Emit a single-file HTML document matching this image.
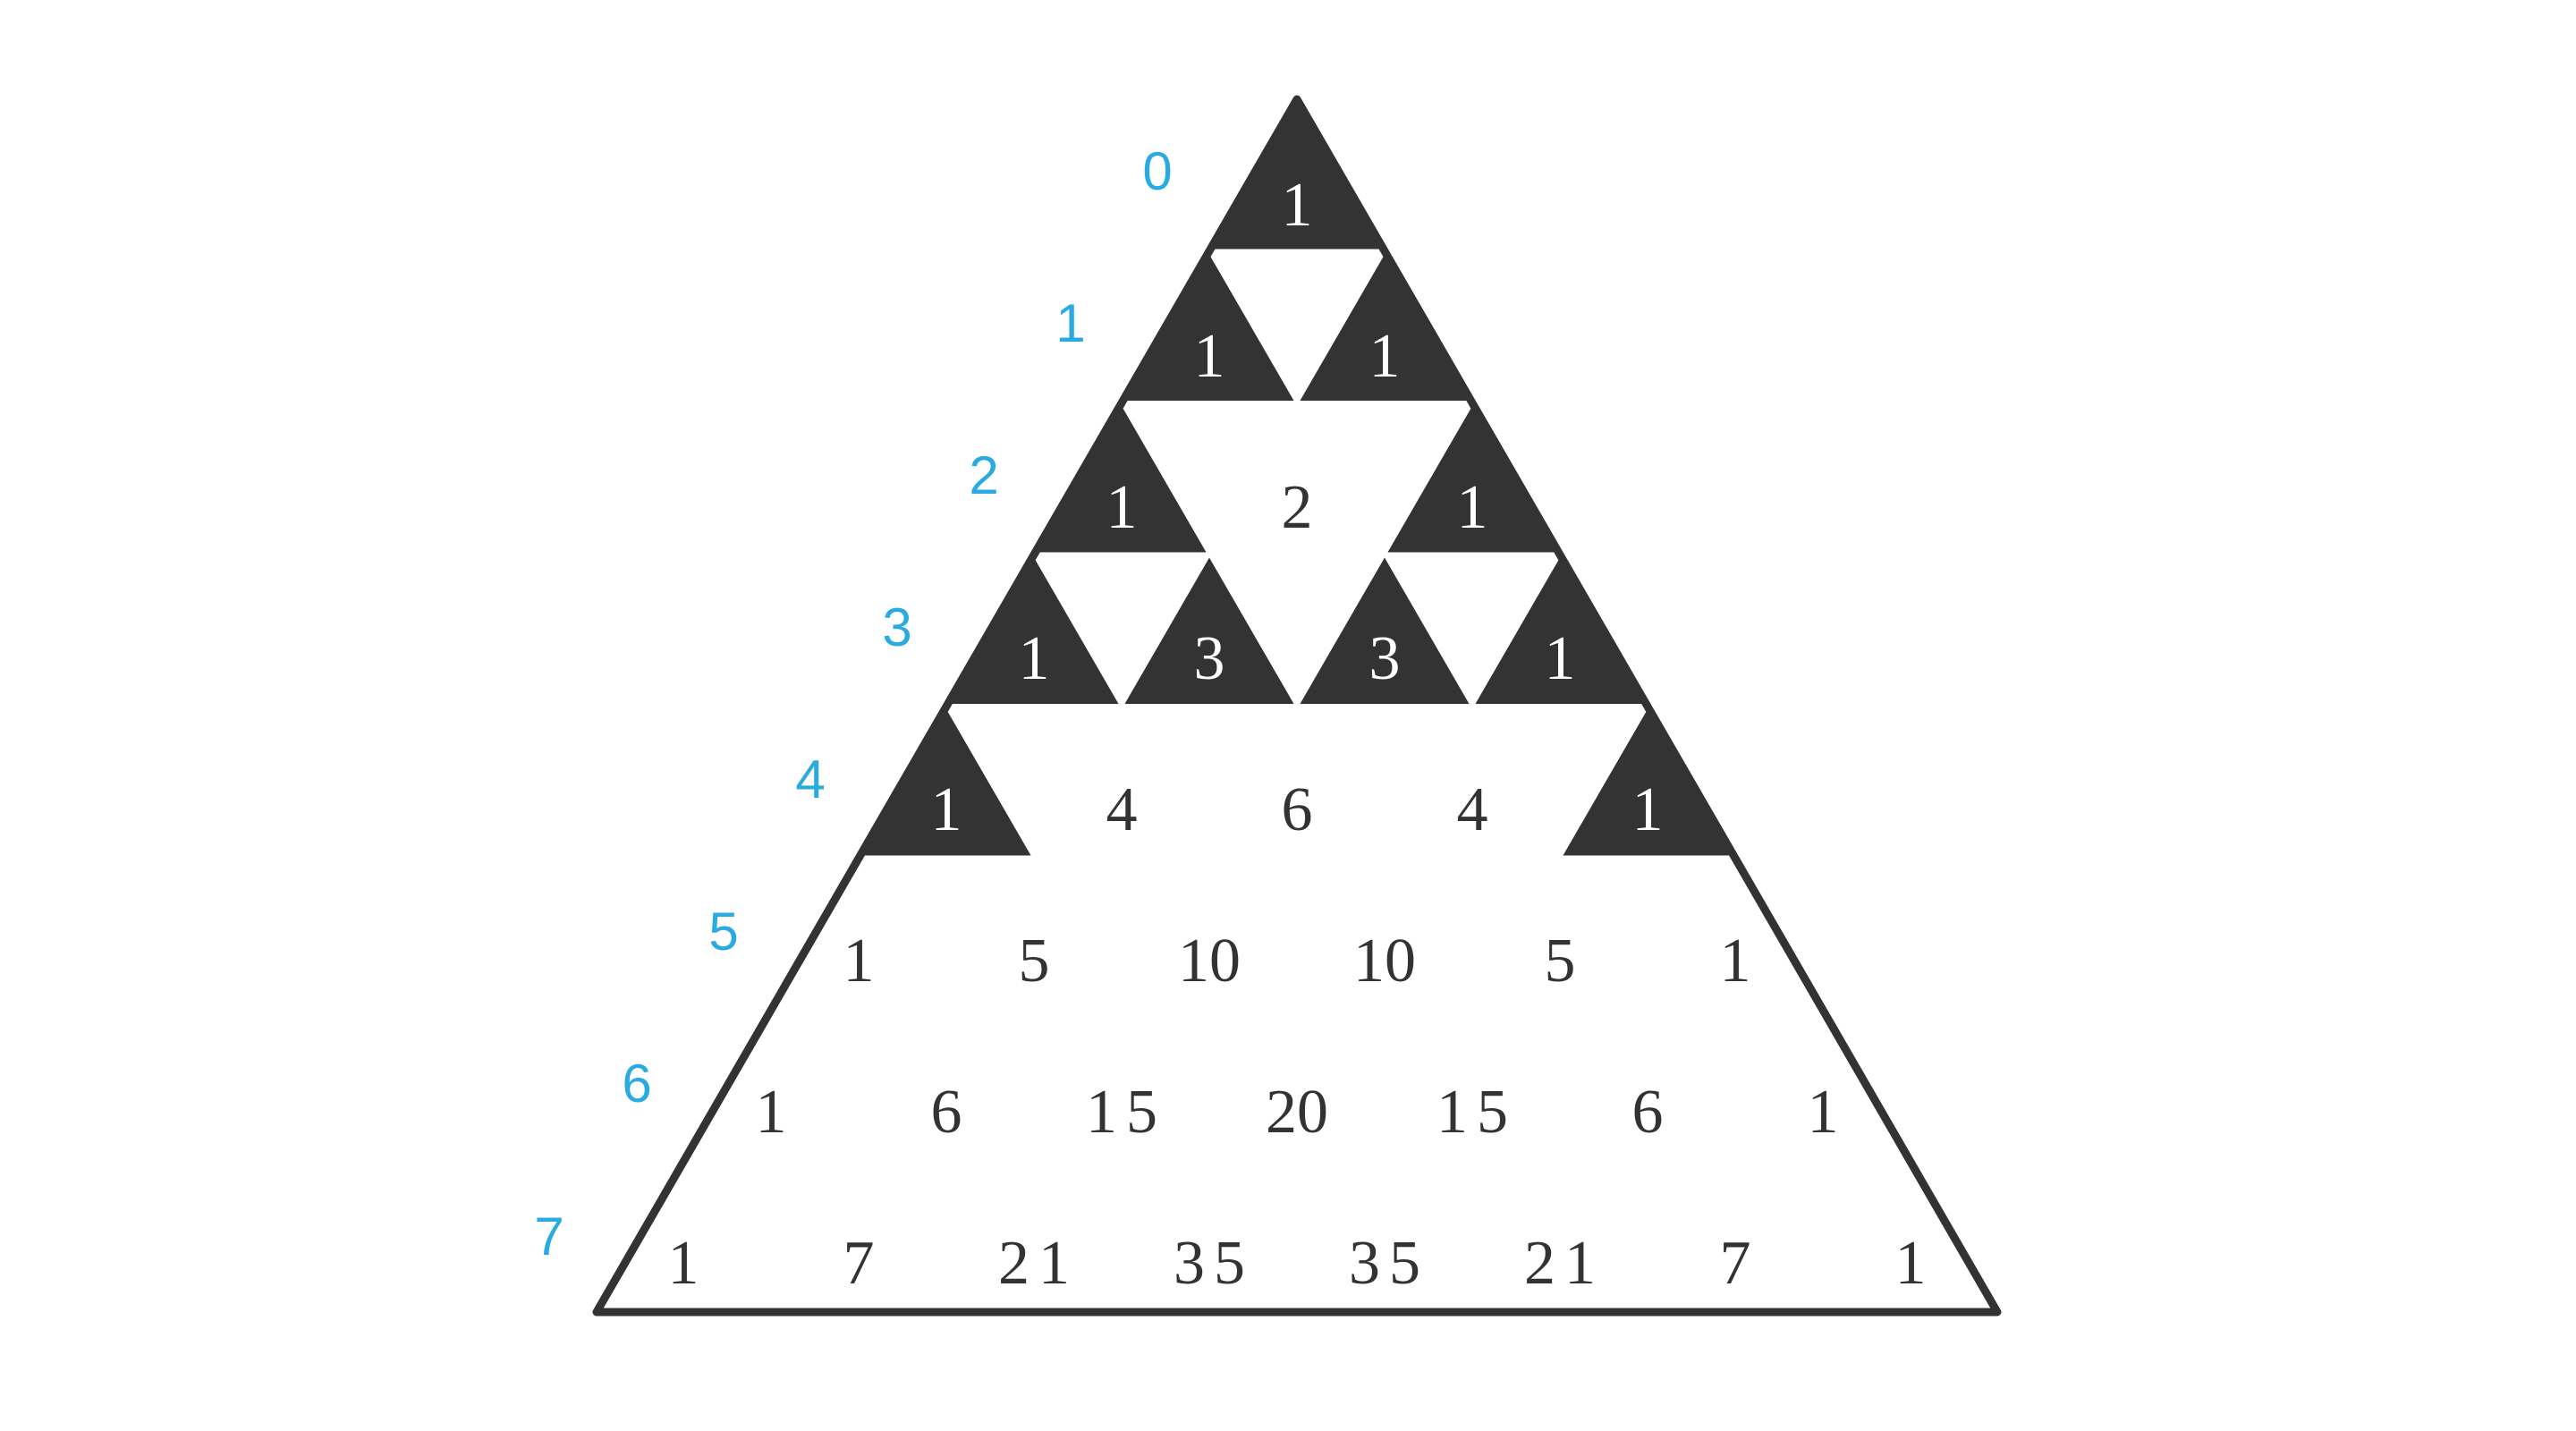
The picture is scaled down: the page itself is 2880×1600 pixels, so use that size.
<!DOCTYPE html>
<html><head><meta charset="utf-8"><style>html,body{margin:0;padding:0;background:#fff}svg{display:block}</style></head>
<body>
<svg width="2880" height="1600" viewBox="0 0 2880 1600" xmlns="http://www.w3.org/2000/svg">
<g fill="#333" stroke="#fff" stroke-width="4" stroke-linejoin="round">
<polygon points="1450,111 1352,280.5 1548,280.5"/>
<polygon points="1352,280.5 1254,450 1450,450"/>
<polygon points="1548,280.5 1450,450 1646,450"/>
<polygon points="1254,450 1156,619.5 1352,619.5"/>
<polygon points="1646,450 1548,619.5 1744,619.5"/>
<polygon points="1156,619.5 1058,789 1254,789"/>
<polygon points="1352,619.5 1254,789 1450,789"/>
<polygon points="1548,619.5 1450,789 1646,789"/>
<polygon points="1744,619.5 1646,789 1842,789"/>
<polygon points="1058,789 960,958.5 1156,958.5"/>
<polygon points="1842,789 1744,958.5 1940,958.5"/>
</g>
<polygon points="1450,111 667,1467 2233,1467" fill="none" stroke="#333" stroke-width="9" stroke-linejoin="round"/>
<g font-family="Liberation Serif, serif" font-size="70" text-anchor="middle" fill="#333">
<g fill="#fff">
<text x="1450" y="252">1</text>
<text x="1352" y="421">1</text><text x="1548" y="421">1</text>
<text x="1254" y="590">1</text><text x="1646" y="590">1</text>
<text x="1156" y="759">1</text><text x="1352" y="759">3</text><text x="1548" y="759">3</text><text x="1744" y="759">1</text>
<text x="1058" y="928">1</text><text x="1842" y="928">1</text>
</g>
<text x="1450" y="590">2</text>
<text x="1254" y="928">4</text><text x="1450" y="928">6</text><text x="1646" y="928">4</text>
<text x="960" y="1097">1</text><text x="1156" y="1097">5</text><text x="1352" y="1097">10</text><text x="1548" y="1097">10</text><text x="1744" y="1097">5</text><text x="1940" y="1097">1</text>
<text x="862" y="1266">1</text><text x="1058" y="1266">6</text><text x="1259" y="1266" letter-spacing="10">15</text><text x="1450" y="1266">20</text><text x="1651" y="1266" letter-spacing="10">15</text><text x="1842" y="1266">6</text><text x="2038" y="1266">1</text>
<text x="764" y="1435">1</text><text x="960" y="1435">7</text><text x="1161" y="1435" letter-spacing="10">21</text><text x="1357" y="1435" letter-spacing="10">35</text><text x="1553" y="1435" letter-spacing="10">35</text><text x="1749" y="1435" letter-spacing="10">21</text><text x="1940" y="1435">7</text><text x="2136" y="1435">1</text>
</g>
<g font-family="Liberation Sans, DejaVu Sans, sans-serif" font-size="60" text-anchor="middle" fill="#29abe2">
<text x="1294" y="212">0</text>
<text x="1197" y="382">1</text>
<text x="1100" y="552">2</text>
<text x="1003" y="722">3</text>
<text x="906" y="892">4</text>
<text x="809" y="1062">5</text>
<text x="712" y="1232">6</text>
<text x="614" y="1403">7</text>
</g>
</svg>
</body></html>
